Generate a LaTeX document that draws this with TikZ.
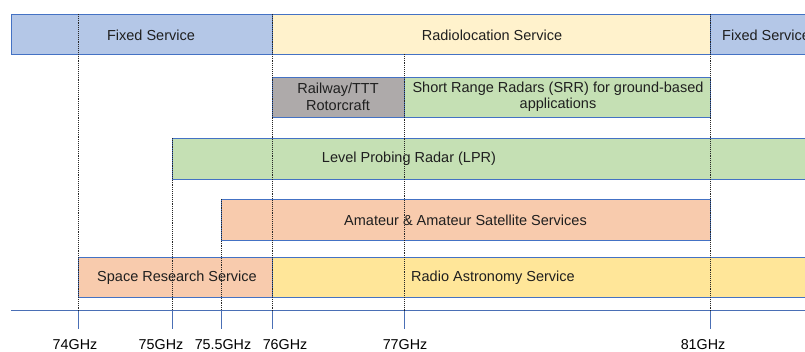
\documentclass[tikz,border=0pt]{standalone}
\usepackage{fontspec}
\setmainfont{Liberation Sans}
\begin{document}
\begin{tikzpicture}[x=1pt,y=-1pt,
  band/.style={draw=edgeblue, line width=1.4pt, rectangle, anchor=north west, inner sep=0pt, minimum height=40pt},
  txt/.style={font=\fontsize{14.5}{16.5}\selectfont, text=textgrey, align=center, inner sep=0pt},
  guide/.style={densely dotted, line width=0.9pt, draw=black!85},
  axisline/.style={draw=axisblue, line width=1pt},
  ticklbl/.style={font=\fontsize{14.3}{16}\selectfont, text=black, inner sep=0pt}]
\definecolor{edgeblue}{HTML}{4472C4}
\definecolor{axisblue}{HTML}{4A6FB5}
\definecolor{textgrey}{HTML}{1F1F1F}
\definecolor{fixedfill}{HTML}{B4C7E7}
\definecolor{radiolocfill}{HTML}{FFF2CC}
\definecolor{railfill}{HTML}{AEAAAA}
\definecolor{srrfill}{HTML}{C5E0B4}
\definecolor{amfill}{HTML}{F8CBAD}
\definecolor{rafill}{HTML}{FFE699}
\useasboundingbox (0,0) rectangle (805,352);
\begin{scope}
\clip (0,0) rectangle (805,352);
% frequency bands
\node[band, fill=fixedfill, minimum width=261pt] (fs1) at (11,14) {};
\node[band, fill=radiolocfill, minimum width=438pt] (rl) at (272,14) {};
\node[band, fill=fixedfill, minimum width=130pt] (fs2) at (710,14) {};
\node[band, fill=railfill, minimum width=132pt] (rail) at (272,77) {};
\node[band, fill=srrfill, minimum width=306pt] (srr) at (404,77) {};
\node[band, fill=srrfill, minimum width=660pt, minimum height=41pt] (lpr) at (172,138) {};
\node[band, fill=amfill, minimum width=489pt, minimum height=41pt] (am) at (221,199) {};
\node[band, fill=amfill, minimum width=194pt] (srs) at (78,257) {};
\node[band, fill=rafill, minimum width=560pt] (ras) at (272,257) {};
% band labels
\node[txt] (tfs1) at (151,35) {Fixed Service};
\node[txt] (trl) at (492,35) {Radiolocation Service};
\node[txt, anchor=west] (tfs2) at (722,35) {Fixed Service};
\node[txt] (trail) at (338,97) {Railway/TTT\\Rotorcraft};
\node[txt] (tsrr) at (558,97) {Short Range Radars (SRR) for ground-based\\applications};
\node[txt] (tlpr) at (409,159) {Level Probing Radar (LPR)};
\node[txt] (tam) at (465.5,220) {Amateur \& Amateur Satellite Services};
\node[txt] (tsrs) at (177,278) {Space Research Service};
\node[txt] (tras) at (493,278) {Radio Astronomy Service};
% frequency axis
\coordinate (axL) at (11,311);
\coordinate (axR) at (805,311);
\draw[axisline] (axL) -- (axR);
\foreach \name/\xx/\ytop/\lx/\lbl in {a/78/14/75/74GHz, b/172/138/161/75GHz, c/221/199/223/75.5GHz, d/272/14/285/76GHz, e/404/54/405/77GHz, f/710/14/703/81GHz}{
  \coordinate (top\name) at (\xx,\ytop);
  \coordinate (base\name) at (\xx,311);
  \coordinate (tick\name) at (\xx,329);
  \draw[guide] (top\name) -- (base\name);
  \draw[axisline] (base\name) -- (tick\name);
  \node[ticklbl] (lbl\name) at (\lx,345) {\lbl};
}
\end{scope}
\end{tikzpicture}
\end{document}
